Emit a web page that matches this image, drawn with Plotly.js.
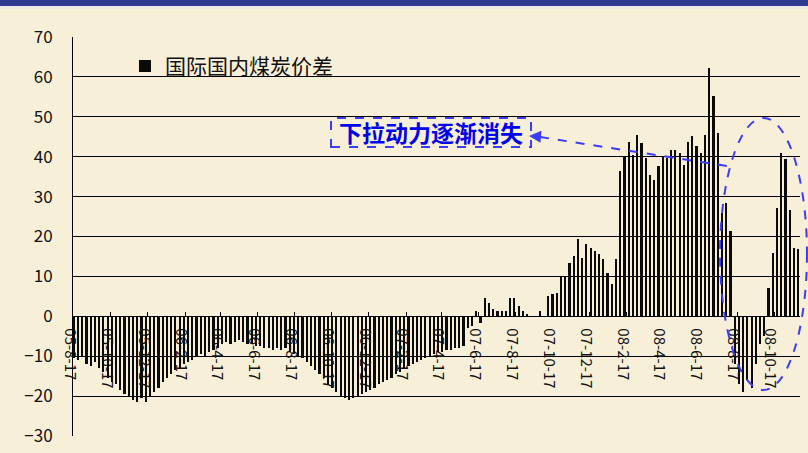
<!DOCTYPE html>
<html>
<head>
<meta charset="utf-8">
<script src="https://cdn.plot.ly/plotly-3.0.1.min.js"></script>
<style>
html,body{margin:0;padding:0;background:#F8EFD8;}
#chart{width:808px;height:453px;}
</style>
</head>
<body>
<div id="chart"></div>
<script>
// ---- data ----
const seriesName = '国际国内煤炭价差';
const noteText = '下拉动力逐渐消失';
const firstWeek = '2005-08-17';   // weekly observations
const values = [
  -10.5, -11, -10, -12, -12.5, -11.5, -13, -14, -15.5, -16.5,
  -17, -18.5, -19.5, -20, -21, -21.5, -20.5, -21.5, -20, -19,
  -18, -16.5, -15.5, -14.5, -13.5, -13, -12, -11.5, -11, -10,
  -9.5, -10, -9, -8.5, -8, -7, -6.5, -7, -6.5, -6,
  -6.5, -7, -7, -7.5, -7.5, -8, -8, -8.5, -8, -8.5,
  -8, -9, -9.5, -10, -10.5, -11.5, -12.5, -13.5, -14.5, -15.5,
  -17, -18, -19, -20, -20.5, -21, -20.5, -20, -19.5, -19,
  -18.5, -18, -17, -16.5, -16, -15.5, -14.5, -14, -13, -12.5,
  -12, -11.5, -11, -10.5, -10, -9.5, -9, -9, -8.5, -8.5,
  -8, -8, -7.5, -3, -2.5, 1.3, -1.8,
  4.7, 3.4, 1.75, 1.3, 1.3, 1.3, 4.7, 4.7, 2.6, 1.3, 0.5, 0, 0, 1.3, 0,
  5.1, 5.5, 5.9, 9.8, 9.8, 13.4, 15.1, 19.25, 14.7, 18, 17.2, 16.3,
  15.5, 14.25, 10.9, 8, 14.25,
  36.3, 40.1, 43.8, 40.5, 45.5, 43.4, 39.7, 35.5, 34.25, 37.6, 40.1, 39.7, 41.75, 41.75,
  40.9, 38, 43.8, 45.1, 42.6, 40.9, 45.5, 62.2, 55.1, 45.9, 25.9, 28.4, 21.3,
  -12, -17, -19, -16, -18, -12, -7, -5,
  7.2, 15.9, 27.2, 41, 39.4, 26.75, 17.2, 16.75
];
const tickDates = ['2005-08-17','2005-10-17','2005-12-17','2006-02-17','2006-04-17','2006-06-17',
  '2006-08-17','2006-10-17','2006-12-17','2007-02-17','2007-04-17','2007-06-17','2007-08-17',
  '2007-10-17','2007-12-17','2008-02-17','2008-04-17','2008-06-17','2008-08-17','2008-10-17'];
const tickLabels = ['05-8-17','05-10-17','05-12-17','06-2-17','06-4-17','06-6-17',
  '06-8-17','06-10-17','06-12-17','07-2-17','07-4-17','07-6-17','07-8-17',
  '07-10-17','07-12-17','08-2-17','08-4-17','08-6-17','08-8-17','08-10-17'];

// weekly dates
const t0 = Date.parse(firstWeek + 'T00:00:00Z');
const dates = values.map((v, i) => new Date(t0 + i * 7 * 86400000).toISOString().slice(0, 10));

const DAY = 86400000;
const blue = '#3c3cff';

const trace = {
  type: 'bar',
  x: dates,
  y: values,
  name: seriesName,
  width: 3.6 * DAY,
  marker: {color: '#0a0a0a', line: {width: 0}},
  hoverinfo: 'skip'
};

const layout = {
  width: 808, height: 453,
  margin: {l: 73, r: 8, t: 37, b: 17, pad: 0},
  paper_bgcolor: '#F8EFD8',
  plot_bgcolor: 'rgba(0,0,0,0)',
  font: {family: '"Noto Sans CJK JP", "Noto Sans CJK SC", sans-serif', color: '#111'},
  showlegend: true,
  legend: {x: 0.0715, y: 0.978, xanchor: 'left', yanchor: 'top', bgcolor: 'rgba(0,0,0,0)',
           font: {size: 21, family: '"Noto Sans CJK SC", sans-serif', color: '#111'}},
  bargap: 0,
  xaxis: {
    type: 'date',
    range: ['2005-08-15 20:00', '2008-11-28 22:00'],
    anchor: 'free', position: 0.3,
    tickmode: 'array', tickvals: tickDates, ticktext: tickLabels,
    tickangle: 90, ticks: 'inside', ticklen: 4, tickcolor: '#000', tickwidth: 1,
    showline: true, linecolor: '#000', linewidth: 1,
    showgrid: false, zeroline: false,
    tickfont: {size: 15, color: '#111'},
    ticklabelshift: -4, ticklabelstandoff: 8
  },
  yaxis: {
    range: [-30, 70], tick0: 0, dtick: 10,
    showline: true, linecolor: '#000', linewidth: 1,
    gridcolor: '#000', gridwidth: 1, zeroline: false,
    ticks: '', tickfont: {size: 17, color: '#111'},
    ticklabelstandoff: 16
  },
  shapes: [
    {type: 'rect', xref: 'paper', yref: 'paper', x0: -0.12, x1: 1.03, y0: 1.0777, y1: 1.12,
     fillcolor: '#2E3A8F', line: {width: 0}, layer: 'above'},
    {type: 'rect', xref: 'paper', yref: 'paper', x0: -0.12, x1: 1.03, y0: 1.0702, y1: 1.0777,
     fillcolor: '#ECE8E2', line: {width: 0}, layer: 'above'},
    {type: 'rect', xref: 'paper', yref: 'paper', x0: 0.3549, x1: 0.630, y0: 0.7243, y1: 0.797,
     line: {color: blue, width: 2, dash: 'dash'}, fillcolor: 'rgba(0,0,0,0)', layer: 'above'},
    {type: 'line', xref: 'paper', yref: 'paper', x0: 0.6424, y0: 0.7494, x1: 0.8996, y1: 0.6767,
     line: {color: blue, width: 2, dash: 'dash'}, layer: 'above'},
    {type: 'circle', xref: 'paper', yref: 'paper', x0: 0.890, x1: 1.0096, y0: 0.1153, y1: 0.797,
     line: {color: blue, width: 2, dash: 'dash'}, fillcolor: 'rgba(0,0,0,0)', layer: 'above'}
  ],
  annotations: [
    {xref: 'paper', yref: 'paper', x: 0.4924, y: 0.7607, xanchor: 'center', yanchor: 'middle',
     text: noteText, showarrow: false,
     font: {size: 23, color: '#0000EE', family: '"Noto Sans CJK SC", sans-serif', weight: 'bold'}},
    {xref: 'paper', yref: 'paper', x: 0.6272, y: 0.7519, text: '', showarrow: true,
     ax: 14, ay: 1, arrowhead: 2, arrowsize: 1.2, arrowwidth: 2, arrowcolor: blue, standoff: 0}
  ]
};

Plotly.newPlot('chart', [trace], layout, {displayModeBar: false, staticPlot: true});
</script>
</body>
</html>
